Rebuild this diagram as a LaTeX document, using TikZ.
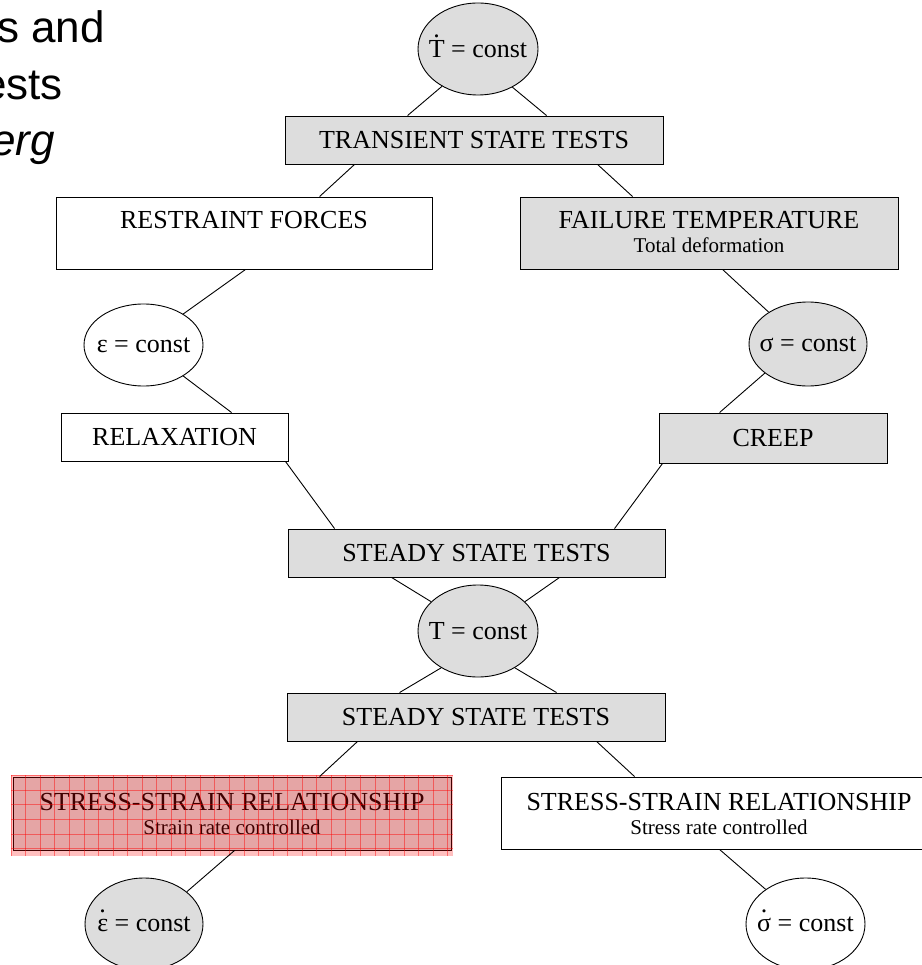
\documentclass[tikz,border=0pt]{standalone}
\usepackage{fontspec}
\setmainfont{Liberation Serif}
\newfontfamily\arialfont{Liberation Sans}
\usetikzlibrary{shapes.geometric,calc}
\definecolor{boxgray}{RGB}{221,221,221}
\newcommand\dotacc[2][0.72em]{\ooalign{#2\cr\hidewidth\raisebox{#1}{.}\hidewidth\cr}}
\begin{document}
\begin{tikzpicture}[x=1pt,y=-1pt,
  font=\fontsize{26}{30}\selectfont,
  box/.style={draw, line width=0.9pt, rectangle, inner sep=0pt},
  gbox/.style={box, fill=boxgray},
  oval/.style={draw, line width=0.9pt, ellipse, inner sep=0pt},
  goval/.style={oval, fill=boxgray},
  ovaltxt/.style={inner sep=0pt},
  subtxt/.style={font=\fontsize{21}{25}\selectfont, anchor=base, inner sep=0pt},
  maintxt/.style={anchor=base, inner sep=0pt},
  conn/.style={line width=0.9pt},
  title/.style={font=\arialfont\fontsize{44}{50}\selectfont, anchor=base east, inner sep=0pt},
  gridred/.style={red, opacity=0.45, line width=0.5pt}]
\useasboundingbox (0,0) rectangle (921,965);

% title fragments
\node[title] (t1) at (105,43) {s and};
\node[title] (t2) at (63,100) {ests};
\node[title] (t3) at (55,156) {\itshape erg};

% ovals
\node[goval, minimum width=120, minimum height=92] (tdot) at (478,49) {};
\node[ovaltxt] (tdottxt) at (tdot.center) {\dotacc[0.78em]{T} = const};
\node[oval, minimum width=119, minimum height=82] (eps) at (143.5,345) {};
\node[ovaltxt] (epstxt) at (eps.center) {ε = const};
\node[goval, minimum width=118, minimum height=84] (sig) at (808,344) {};
\node[ovaltxt] (sigtxt) at (sig.center) {σ = const};
\node[goval, minimum width=120, minimum height=92] (tc) at (478,631) {};
\node[ovaltxt] (tctxt) at (tc.center) {T = const};
\node[goval, minimum width=118, minimum height=92] (epsdot) at (144,924) {};
\node[ovaltxt] (epsdottxt) at (epsdot.center) {\dotacc{ε} = const};
\node[oval, minimum width=119, minimum height=92] (sigdot) at (805.5,924) {};
\node[ovaltxt] (sigdottxt) at (sigdot.center) {\dotacc{σ} = const};

% boxes
\node[gbox, minimum width=378, minimum height=48] (tr) at (474,140) {TRANSIENT STATE TESTS};
\node[box, minimum width=376, minimum height=72] (rf) at (244,233) {};
\node[maintxt] (rftxt) at (244,229) {RESTRAINT FORCES};
\node[gbox, minimum width=378, minimum height=72] (ft) at (709,233) {};
\node[maintxt] (fttxt) at (709,229) {FAILURE TEMPERATURE};
\node[subtxt] (ftsub) at (709,253) {Total deformation};
\node[box, minimum width=227, minimum height=48] (rl) at (174.5,437) {RELAXATION};
\node[gbox, minimum width=228, minimum height=50] (cr) at (773,438) {CREEP};
\node[gbox, minimum width=377, minimum height=48] (s1) at (476.5,553) {STEADY STATE TESTS};
\node[gbox, minimum width=378, minimum height=48] (s2) at (476,717) {STEADY STATE TESTS};
\node[gbox, minimum width=438, minimum height=73] (ls) at (232,813.5) {};
\node[maintxt] (lstxt) at (232,810) {STRESS-STRAIN RELATIONSHIP};
\node[subtxt] (lssub) at (232,834) {Strain rate controlled};
\node[box, minimum width=436, minimum height=72] (rs) at (719,813) {};
\node[maintxt] (rstxt) at (719,810) {STRESS-STRAIN RELATIONSHIP};
\node[subtxt] (rssub) at (719,834) {Stress rate controlled};

% red grid overlay on the left lower box
\fill[red, opacity=0.25] (11,775) rectangle (453,856);
\foreach \gx in {11,25.55,...,453} \draw[gridred] (\gx,775) -- (\gx,856);
\foreach \gy in {775.5,790.1,...,856} \draw[gridred] (11,\gy) -- (453,\gy);

% connectors
\draw[conn] (tdot.226) -- ($(tr.north west)+(123,0)$);
\draw[conn] (tdot.312) -- ($(tr.north west)+(262,0)$);
\draw[conn] ($(tr.south west)+(70,0)$) -- ($(rf.north west)+(264,0)$);
\draw[conn] ($(tr.south west)+(313,0)$) -- ($(ft.north west)+(113,0)$);
\draw[conn] ($(rf.south west)+(190,0)$) -- (eps.38);
\draw[conn] (eps.-38) -- ($(rl.north west)+(171,0)$);
\draw[conn] ($(ft.south west)+(203,0)$) -- (sig.141);
\draw[conn] (sig.214) -- ($(cr.north west)+(61,0)$);
\draw[conn] ($(rl.south east)+(-3,0)$) -- ($(s1.north west)+(47,0)$);
\draw[conn] ($(cr.south west)+(4,0)$) -- ($(s1.north west)+(327,0)$);
\draw[conn] ($(s1.south west)+(104,0)$) -- (tc.148);
\draw[conn] ($(s1.south west)+(272,0)$) -- (tc.32);
\draw[conn] (tc.225) -- ($(s2.north west)+(113,0)$);
\draw[conn] (tc.315) -- ($(s2.north west)+(270,0)$);
\draw[conn] ($(s2.south west)+(71,0)$) -- ($(ls.north west)+(307,0)$);
\draw[conn] ($(s2.south west)+(310,0)$) -- ($(rs.north west)+(134,0)$);
\draw[conn] ($(ls.south west)+(222,0)$) -- (epsdot.37);
\draw[conn] ($(rs.south west)+(219,0)$) -- (sigdot.139);
\end{tikzpicture}
\end{document}
